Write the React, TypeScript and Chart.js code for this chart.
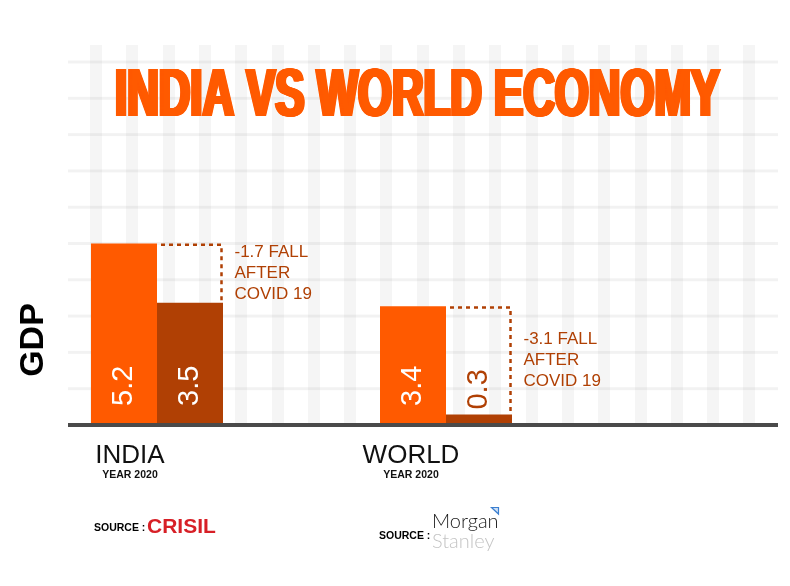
import React, { useEffect, useRef } from "react";
import { Chart, registerables } from "chart.js";

Chart.register(...registerables);

// ---------- data ----------
const categories = ["INDIA", "WORLD"];
const periodLabels = ["YEAR 2020", "YEAR 2020"];
const beforeCovid = [5.2, 3.4];
const afterCovid = [3.5, 0.3];
const sourceNames = ["CRISIL", "Morgan Stanley"];
const chartTitle = "INDIA VS WORLD ECONOMY";
const yAxisTitle = "GDP";

// ---------- styles ----------
const ORANGE = "#ff5a00";
const BROWN = "#b04004";
const SANS = "'Liberation Sans', Arial, Helvetica, sans-serif";
const LABEL_SHIFT = [-27, -35];

const infographic = {
  id: "infographic",
  beforeDatasetsDraw(chart: any) {
    const { ctx } = chart;
    const y = chart.scales.y;
    const base = y.getPixelForValue(0);
    ctx.save();
    // vertical stripes of the background grid
    ctx.fillStyle = "rgba(0,0,0,0.04)";
    for (let k = 0; k < 19; k++) {
      ctx.fillRect(Math.round(90 + k * 36.3), 45, 12, base - 45);
    }
    // horizontal lines from the y ticks
    ctx.fillStyle = "rgba(0,0,0,0.05)";
    const ticks = y.ticks && y.ticks.length ? y.ticks.map((t: any) => t.value) : [];
    ticks.forEach((v: number) => {
      const py = y.getPixelForValue(v);
      ctx.fillRect(68, py - 1.5, 710, 3);
    });
    ctx.restore();
  },
  afterDatasetsDraw(chart: any) {
    const { ctx } = chart;
    const y = chart.scales.y;
    const base = y.getPixelForValue(0);
    const m0 = chart.getDatasetMeta(0);
    const m1 = chart.getDatasetMeta(1);

    ctx.save();
    // axis line
    ctx.fillStyle = "#4a4a4a";
    ctx.fillRect(68, base - 2, 710, 4);

    // value labels
    chart.data.datasets.forEach((ds: any, di: number) => {
      const meta = chart.getDatasetMeta(di);
      meta.data.forEach((bar: any, i: number) => {
        const p = bar.getProps(["x", "y", "base"], true);
        const txt = Number(ds.data[i]).toFixed(1);
        ctx.font = `29px ${SANS}`;
        const tw = ctx.measureText(txt).width;
        const inside = p.base - p.y > tw + 26;
        ctx.save();
        ctx.translate(p.x, inside ? p.base - 19 : p.y - 5);
        ctx.rotate(-Math.PI / 2);
        ctx.textAlign = "left";
        ctx.textBaseline = "middle";
        ctx.fillStyle = inside ? "#ffffff" : BROWN;
        ctx.fillText(txt, 0, 0);
        ctx.restore();
      });
    });

    // dashed fall annotations
    categories.forEach((_, i) => {
      const a = m0.data[i].getProps(["x", "y", "width"], true);
      const b = m1.data[i].getProps(["x", "y", "width"], true);
      const xA = a.x + a.width / 2;
      const xB = b.x + b.width / 2 - 1.5;
      ctx.save();
      ctx.strokeStyle = BROWN;
      ctx.lineWidth = 2.5;
      ctx.setLineDash([4, 4]);
      ctx.beginPath();
      ctx.moveTo(xA + 4, a.y + 1.25);
      ctx.lineTo(xB, a.y + 1.25);
      ctx.lineTo(xB, b.y);
      ctx.stroke();
      ctx.restore();

      const diff = (afterCovid[i] - beforeCovid[i]).toFixed(1);
      const lines = [`${diff} FALL`, "AFTER", "COVID 19"];
      const cy = (a.y + b.y) / 2;
      ctx.fillStyle = BROWN;
      ctx.font = `17px ${SANS}`;
      ctx.textAlign = "left";
      ctx.textBaseline = "middle";
      lines.forEach((ln, k) => ctx.fillText(ln, xB + 13, cy + (k - 1) * 21));
    });

    // category labels
    categories.forEach((cat, i) => {
      const a = m0.data[i].getProps(["x", "width"], true);
      const cx = a.x + a.width / 2 + LABEL_SHIFT[i];
      ctx.fillStyle = "#111";
      ctx.textAlign = "center";
      ctx.textBaseline = "alphabetic";
      ctx.font = `26px ${SANS}`;
      ctx.fillText(cat, cx, 463);
      ctx.font = `bold 10.5px ${SANS}`;
      ctx.fillText(periodLabels[i], cx, 478);
    });

    // title
    ctx.font = `bold 68px ${SANS}`;
    const w = ctx.measureText(chartTitle).width;
    const sx = 605 / w;
    ctx.save();
    ctx.translate(113, 116);
    ctx.scale(sx, 1);
    ctx.fillStyle = ORANGE;
    ctx.textAlign = "left";
    ctx.textBaseline = "alphabetic";
    for (let o = 0; o <= 4; o += 0.5) ctx.fillText(chartTitle, o / sx, 0);
    ctx.restore();

    // y axis title
    ctx.save();
    ctx.translate(34, 340);
    ctx.rotate(-Math.PI / 2);
    ctx.fillStyle = "#000";
    ctx.font = `bold 34px ${SANS}`;
    ctx.textAlign = "center";
    ctx.textBaseline = "middle";
    ctx.fillText(yAxisTitle, 0, 0);
    ctx.restore();

    // sources
    ctx.textAlign = "left";
    ctx.textBaseline = "alphabetic";
    ctx.fillStyle = "#000";
    ctx.font = `bold 10.5px ${SANS}`;
    ctx.fillText("SOURCE :", 94, 531);
    ctx.fillStyle = "#d71f26";
    ctx.font = `bold 21px ${SANS}`;
    ctx.fillText(sourceNames[0], 147, 533);

    ctx.fillStyle = "#000";
    ctx.font = `bold 10.5px ${SANS}`;
    ctx.fillText("SOURCE :", 379, 539);
    const [ms1, ms2] = sourceNames[1].split(" ");
    ctx.font = `300 20px Lato, ${SANS}`;
    ctx.fillStyle = "#1a1a1a";
    ctx.fillText(ms1, 432, 528);
    ctx.fillStyle = "#c4c4c4";
    ctx.fillText(ms2, 432, 548);
    // small logo triangle
    ctx.strokeStyle = "#3b7fd0";
    ctx.fillStyle = "#cfe0f5";
    ctx.lineWidth = 1.2;
    ctx.beginPath();
    ctx.moveTo(491.5, 507.5);
    ctx.lineTo(498.5, 507.5);
    ctx.lineTo(498.5, 514);
    ctx.closePath();
    ctx.fill();
    ctx.stroke();

    ctx.restore();
  },
};

export default function App() {
  const ref = useRef<HTMLCanvasElement | null>(null);
  useEffect(() => {
    if (!ref.current) return;
    const chart = new Chart(ref.current, {
      type: "bar",
      data: {
        labels: categories,
        datasets: [
          { label: "Before COVID-19", data: beforeCovid, backgroundColor: ORANGE, borderWidth: 0 },
          { label: "After COVID-19", data: afterCovid, backgroundColor: BROWN, borderWidth: 0 },
        ],
      },
      options: {
        responsive: false,
        animation: false,
        layout: { padding: { left: 12.5, right: 199.5, top: 62, bottom: 161 } },
        datasets: { bar: { barPercentage: 1, categoryPercentage: 132 / 289 } },
        scales: {
          x: { display: false },
          y: { display: false, min: 0, max: 10.4, ticks: { stepSize: 1.04 } },
        },
        plugins: {
          legend: { display: false },
          tooltip: { enabled: false },
          title: { display: false },
        },
      } as any,
      plugins: [infographic as any],
    });
    return () => chart.destroy();
  }, []);
  return (
    <div style={{ position: "fixed", left: 0, top: 0, width: 790, height: 586, background: "#fff" }}>
      <canvas ref={ref} width={790} height={586} style={{ display: "block" }} />
    </div>
  );
}
